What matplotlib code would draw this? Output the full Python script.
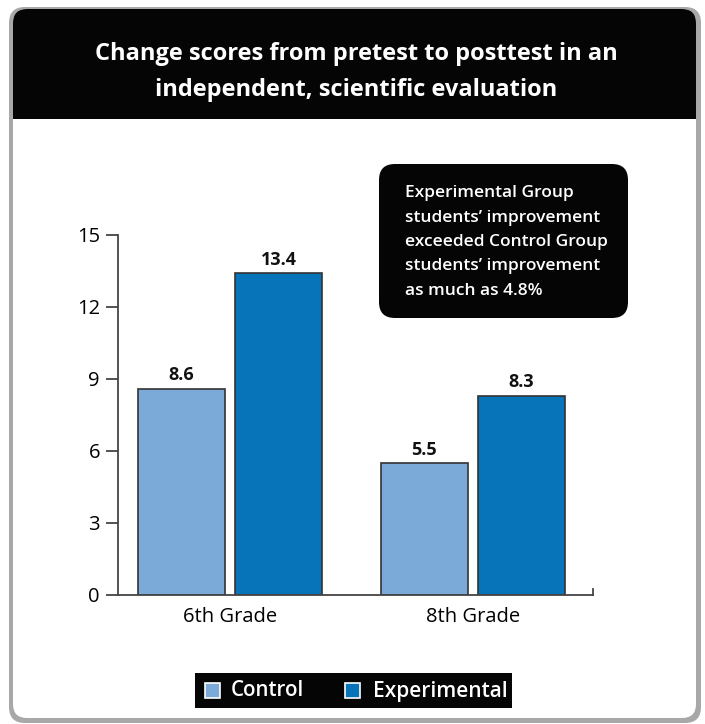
import matplotlib
matplotlib.use("Agg")
import matplotlib.pyplot as plt
from matplotlib.patches import FancyBboxPatch, Rectangle
import numpy as np

# data
grades = ["6th Grade", "8th Grade"]
control = [8.6, 5.5]
experimental = [13.4, 8.3]
yticks = [0, 3, 6, 9, 12, 15]
title = "Change scores from pretest to posttest in an\nindependent, scientific evaluation"
note = ("Experimental Group\nstudents\u2019 improvement\nexceeded Control Group\n"
        "students\u2019 improvement\nas much as 4.8%")

c_ctrl = "#7BAAD9"
c_exp = "#0773B9"
edge = "#333333"

plt.rcParams['font.family'] = ['Open Sans', 'DejaVu Sans']

W, H = 705, 724
fig = plt.figure(figsize=(W / 100, H / 100), dpi=100)
fig.patch.set_facecolor("white")

# background overlay in pixel coords (y down)
bg = fig.add_axes([0, 0, 1, 1], zorder=0)
bg.set_xlim(0, W)
bg.set_ylim(H, 0)
bg.axis("off")

# card shadow and body
bg.add_patch(FancyBboxPatch((9, 7), 692, 716, boxstyle="round,pad=0,rounding_size=16",
                            fc="#a8a8a8", ec="none"))
bg.add_patch(FancyBboxPatch((13, 9), 683, 709, boxstyle="round,pad=0,rounding_size=14",
                            fc="white", ec="none"))
# black header
bg.add_patch(FancyBboxPatch((13, 9), 683, 140, boxstyle="round,pad=0,rounding_size=14",
                            fc="#050505", ec="none"))
bg.add_patch(Rectangle((13, 119), 683, 40, fc="white", ec="none"))
bg.text(356, 72, title, color="white", fontsize=17, fontweight="bold",
        ha="center", va="center", linespacing=1.65)

# main chart
ax = fig.add_axes([118 / W, (H - 595) / H, 475 / W, 360 / H], zorder=1)
ax.patch.set_alpha(0)
x = np.arange(len(grades))
w = 0.358
b1 = ax.bar(x - 0.2, control, w, color=c_ctrl, edgecolor=edge, linewidth=1.2)
b2 = ax.bar(x + 0.2, experimental, w, color=c_exp, edgecolor=edge, linewidth=1.2)
for bars, vals in [(b1, control), (b2, experimental)]:
    for r, v in zip(bars, vals):
        ax.text(r.get_x() + r.get_width() / 2, v + 0.18, f"{v}", ha="center", va="bottom",
                fontsize=13, fontweight="bold", color="#111111")

ax.set_xlim(-0.461, 1.494)
ax.set_ylim(0, 15)
ax.set_yticks(yticks)
ax.set_xticks(x)
ax.set_xticklabels(grades)
ax.tick_params(axis="y", length=9, width=1.3, color="#444444", labelsize=14.5, pad=4)
ax.tick_params(axis="x", length=0, labelsize=14.5, pad=9)
ax.spines["top"].set_visible(False)
ax.spines["right"].set_bounds(0, 0.25)
for s in ["left", "bottom", "right"]:
    ax.spines[s].set_color("#444444")
    ax.spines[s].set_linewidth(1.3)

# foreground overlay: callout and legend
fg = fig.add_axes([0, 0, 1, 1], zorder=3)
fg.set_xlim(0, W)
fg.set_ylim(H, 0)
fg.axis("off")
fg.patch.set_alpha(0)

fg.add_patch(FancyBboxPatch((379, 164), 249, 154, boxstyle="round,pad=0,rounding_size=16",
                            fc="#050505", ec="none"))
fg.text(405, 242, note, color="white", fontsize=12.5, fontweight="semibold",
        ha="left", va="center", linespacing=1.7)

fg.add_patch(Rectangle((195, 673), 317, 35, fc="#050505", ec="none"))
fg.add_patch(Rectangle((205, 683), 15, 15, fc=c_ctrl, ec="white", lw=1.2))
fg.text(231, 691, "Control", color="white", fontsize=14.8, fontweight="semibold",
        ha="left", va="center")
fg.add_patch(Rectangle((345, 683), 15, 15, fc=c_exp, ec="white", lw=1.2))
fg.text(373, 691, "Experimental", color="white", fontsize=15, fontweight="semibold",
        ha="left", va="center")

plt.savefig("out.png", dpi=100)
